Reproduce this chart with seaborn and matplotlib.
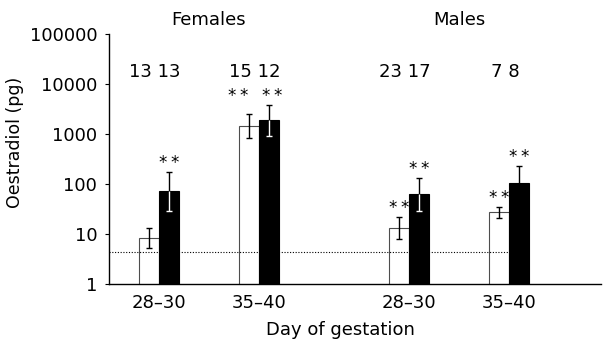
import numpy as np
import pandas as pd
import seaborn as sns
import matplotlib
matplotlib.use("Agg")
import matplotlib.pyplot as plt
import matplotlib.transforms as mtransforms

# ---- data ----
sex_titles = ["Females", "Males"]
groups = ["F 28–30", "F 35–40", "M 28–30", "M 35–40"]
day_labels = ["28–30", "35–40", "28–30", "35–40"]
open_mean = [8.3, 1450, 13.2, 27.5]
open_upper = [13.2, 2500, 22, 35]
open_lower = [5.2, 830, 7.9, 21]
solid_mean = [72, 1900, 63, 105]
solid_upper = [174, 3800, 132, 229]
solid_lower = [29, 910, 29, 105]   # last group: no lower bar visible
n_open = [13, 15, 23, 7]
n_solid = [13, 12, 17, 8]
star_open = [False, True, True, True]
star_solid = [True, True, True, True]
detection_limit = 4.4

# categorical slots (spacers give the uneven spacing between groups)
order = ["F 28–30", "_s1", "F 35–40", "_s2", "_s3", "M 28–30", "_s4", "M 35–40"]

df = pd.DataFrame({
    "group": groups * 2,
    "series": ["open"] * 4 + ["solid"] * 4,
    "value": open_mean + solid_mean,
})

sns.set_style("white")
plt.rcParams["font.family"] = ["DejaVu Sans"]
for k in ["text.color", "axes.labelcolor", "xtick.color", "ytick.color", "axes.edgecolor"]:
    plt.rcParams[k] = "black"
FS = 13

fig = plt.figure(figsize=(6.04, 3.47), dpi=100)
ax = fig.add_axes([0.1805, 0.1816, 0.8145, 0.7205])
ax.set_yscale("log")

sns.barplot(data=df, x="group", y="value", hue="series", order=order,
            hue_order=["open", "solid"], palette={"open": "white", "solid": "black"},
            errorbar=None, width=0.8, dodge=True, legend=False, ax=ax,
            linewidth=0.8)

open_bars = list(ax.containers[0])
solid_bars = list(ax.containers[1])
for p in open_bars:
    p.set_edgecolor("0.3")
    p.set_zorder(2)
for p in solid_bars:
    p.set_edgecolor("black")
    p.set_zorder(2)

ax.set_ylim(1, 1e5)
ax.set_xlim(-1.0, 8.84)

def cx(p):
    return p.get_x() + p.get_width() / 2

def star_pair(x, y, shift=0.0):
    for dx in (-4.3, 4.3):
        ax.annotate("*", (x, y), xytext=(dx + shift, 0.0), textcoords="offset points",
                    ha="center", va="bottom", fontsize=12)

cap_ms = 5
lw = 1.0
trans = mtransforms.blended_transform_factory(ax.transData, ax.transAxes)
for i in range(4):
    po, ps = open_bars[i], solid_bars[i]
    xo, xs = cx(po), cx(ps)
    # open bar error: full span in black
    ax.vlines(xo, open_lower[i], open_upper[i], color="black", lw=lw, zorder=4)
    ax.plot([xo, xo], [open_lower[i], open_upper[i]], ls="none", marker="_",
            ms=cap_ms, mew=lw, color="black", zorder=4)
    # solid bar: upper part black, lower part white inside the bar
    ax.vlines(xs, solid_mean[i], solid_upper[i], color="black", lw=lw, zorder=4)
    ax.plot([xs], [solid_upper[i]], ls="none", marker="_", ms=cap_ms, mew=lw,
            color="black", zorder=4)
    if solid_lower[i] < solid_mean[i]:
        ax.vlines(xs, solid_lower[i], solid_mean[i], color="white", lw=lw, zorder=4)
        ax.plot([xs], [solid_lower[i]], ls="none", marker="_", ms=cap_ms, mew=lw,
                color="white", zorder=4)

    # significance stars
    tops = [open_upper[i], solid_upper[i]]
    both = star_open[i] and star_solid[i]
    align = both and abs(np.log10(tops[0]) - np.log10(tops[1])) < 0.2
    if star_open[i]:
        star_pair(xo, max(tops) if align else open_upper[i], -8 if align else 0)
    if star_solid[i]:
        star_pair(xs, max(tops) if align else solid_upper[i], 2 if align else 0)

    # n numbers
    gx = (po.get_x() + po.get_width() + ps.get_x()) / 2
    ax.annotate(f"{n_open[i]} {n_solid[i]}", (gx, 0.848), xycoords=trans,
                xytext=(-3, 0), textcoords="offset points",
                ha="center", va="center", fontsize=FS)

# detection limit dotted line, ending at the last solid bar
ax.hlines(detection_limit, ax.get_xlim()[0], solid_bars[3].get_x(),
          colors="black", linestyles=(0, (1, 1.5)), lw=0.8, zorder=3)

# sex titles
for k, title in enumerate(sex_titles):
    a = open_bars[2 * k]
    b = solid_bars[2 * k + 1]
    xc = (a.get_x() + b.get_x() + b.get_width()) / 2
    ax.text(xc, 1.056, title, transform=trans, ha="center", va="center", fontsize=FS)

# axes styling
ax.set_xticks([(open_bars[i].get_x() + open_bars[i].get_width() + solid_bars[i].get_x()) / 2
               for i in range(4)])
ax.set_xticklabels(day_labels, fontsize=FS)
ax.tick_params(axis="x", length=0, pad=7)
ax.set_yticks([1, 10, 100, 1000, 10000, 100000])
ax.set_yticklabels(["1", "10", "100", "1000", "10000", "100000"], fontsize=FS)
ax.minorticks_off()
ax.tick_params(axis="y", which="major", length=3, width=0.8, direction="out",
               left=True, pad=5.5, color="black")
ax.set_xlabel("Day of gestation", fontsize=FS)
ax.xaxis.set_label_coords(0.47, -0.15)
ax.set_ylabel("Oestradiol (pg)", fontsize=12.5)
ax.yaxis.set_label_coords(-0.172, 0.565)
for side in ["top", "right"]:
    ax.spines[side].set_visible(False)
for side in ["left", "bottom"]:
    ax.spines[side].set_color("black")
    ax.spines[side].set_linewidth(1.0)

fig.savefig("out.png", dpi=100)
